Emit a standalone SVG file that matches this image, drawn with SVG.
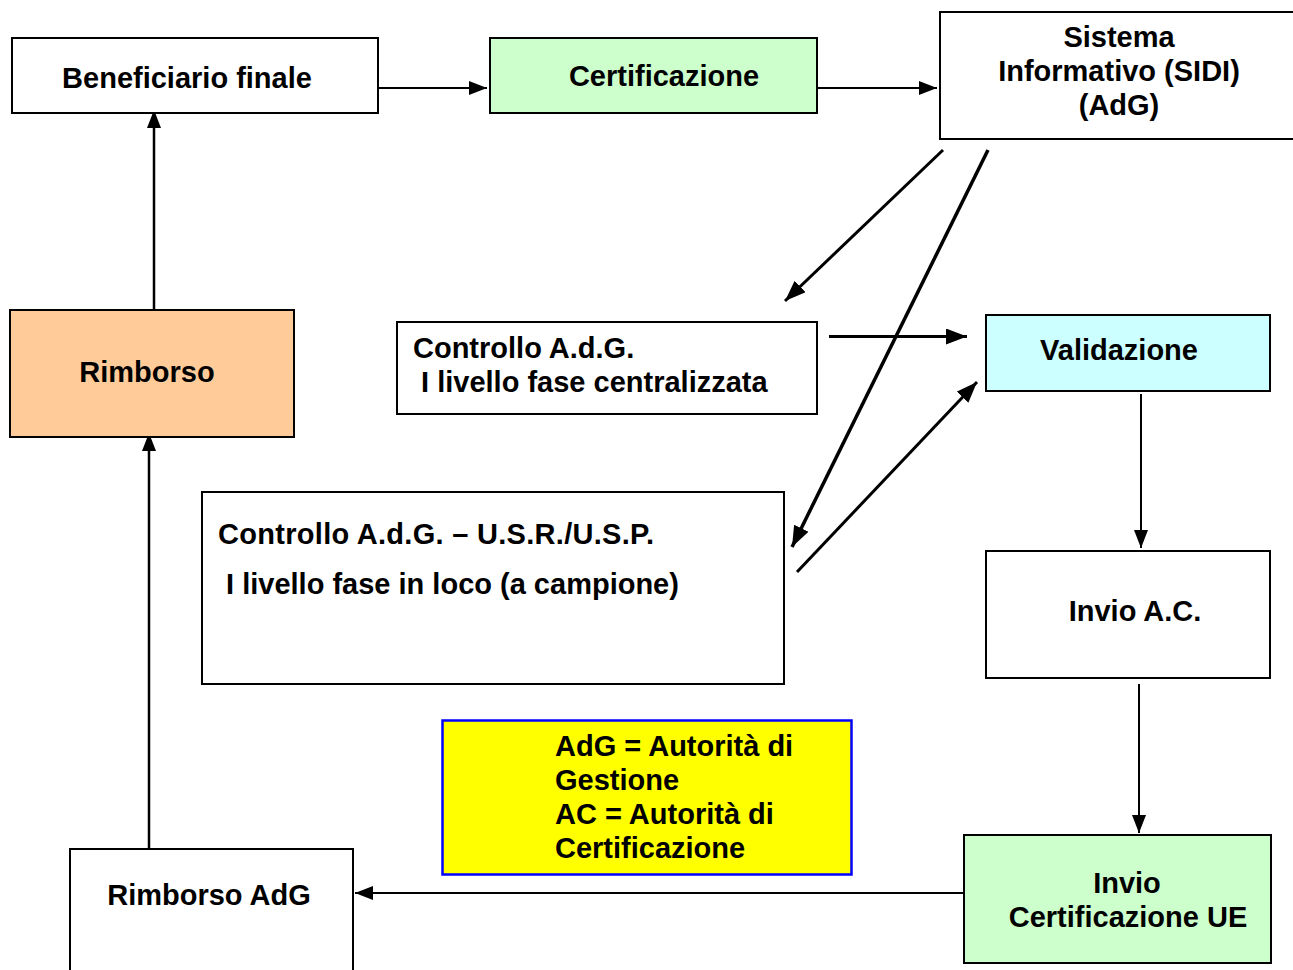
<svg xmlns="http://www.w3.org/2000/svg" width="1293" height="970" viewBox="0 0 1293 970">
<style>
.box{stroke:#000;stroke-width:2;}
.t{font-family:"Liberation Sans",Arial,sans-serif;font-weight:bold;font-size:29px;fill:#000;}
.c{text-anchor:middle;}
.ln{stroke:#000;fill:none;}
</style>
<defs>
<marker id="ah" markerUnits="userSpaceOnUse" markerWidth="20" markerHeight="16" refX="18" refY="7" orient="auto">
<path d="M0,0 L18,7 L0,14 Z" fill="#000"/>
</marker>
<marker id="ahb" markerUnits="userSpaceOnUse" markerWidth="24" markerHeight="18" refX="21" refY="8" orient="auto">
<path d="M0,0 L21,8 L0,16 Z" fill="#000"/>
</marker>
</defs>
<rect width="1293" height="970" fill="#fff"/>
<g id="connectors">
<line class="ln" x1="375" y1="88" x2="487" y2="88" stroke-width="2" marker-end="url(#ah)"/>
<line class="ln" x1="815" y1="88" x2="937" y2="88" stroke-width="2" marker-end="url(#ah)"/>
<line class="ln" x1="154" y1="310" x2="154" y2="110" stroke-width="2.5" marker-end="url(#ah)"/>
<line class="ln" x1="149" y1="849" x2="149" y2="433" stroke-width="2.5" marker-end="url(#ah)"/>
<line class="ln" x1="964" y1="893" x2="355" y2="893" stroke-width="2" marker-end="url(#ah)"/>
<line class="ln" x1="1141" y1="394" x2="1141" y2="548" stroke-width="2" marker-end="url(#ah)"/>
<line class="ln" x1="1139" y1="684" x2="1139" y2="833" stroke-width="2" marker-end="url(#ah)"/>
<line class="ln" x1="943" y1="150" x2="785" y2="301" stroke-width="3" marker-end="url(#ahb)"/>
<line class="ln" x1="988" y1="150" x2="792" y2="547" stroke-width="3.5" marker-end="url(#ahb)"/>
<line class="ln" x1="829" y1="336.5" x2="967" y2="336.5" stroke-width="3" marker-end="url(#ahb)"/>
<line class="ln" x1="797" y1="572" x2="977" y2="382" stroke-width="3" marker-end="url(#ahb)"/>
</g>
<g id="beneficiario">
<rect class="box" x="12" y="38" width="366" height="75" fill="#fff"/>
<text class="t c" x="187" y="88">Beneficiario finale</text>
</g>
<g id="certificazione">
<rect class="box" x="490" y="38" width="327" height="75" fill="#ccffcc"/>
<text class="t c" x="664" y="86">Certificazione</text>
</g>
<g id="sistema">
<rect class="box" x="940" y="12" width="370" height="127" fill="#fff"/>
<text class="t c" x="1119" y="47">Sistema</text>
<text class="t c" x="1119" y="81">Informativo (SIDI)</text>
<text class="t c" x="1119" y="115">(AdG)</text>
</g>
<g id="controllo-adg">
<rect class="box" x="397" y="322" width="420" height="92" fill="#fff"/>
<text class="t" x="413" y="358">Controllo A.d.G.</text>
<text class="t" x="413" y="392" xml:space="preserve"> I livello fase centralizzata</text>
</g>
<g id="validazione">
<rect class="box" x="986" y="315" width="284" height="76" fill="#ccffff"/>
<text class="t c" x="1119" y="360">Validazione</text>
</g>
<g id="rimborso">
<rect class="box" x="10" y="310" width="284" height="127" fill="#ffcc99"/>
<text class="t c" x="147" y="382">Rimborso</text>
</g>
<g id="controllo-usr">
<rect class="box" x="202" y="492" width="582" height="192" fill="#fff"/>
<text class="t" x="218" y="544" textLength="436" lengthAdjust="spacing">Controllo A.d.G. – U.S.R./U.S.P.</text>
<text class="t" x="218" y="594" xml:space="preserve"> I livello fase in loco (a campione)</text>
</g>
<g id="invio-ac">
<rect class="box" x="986" y="551" width="284" height="127" fill="#fff"/>
<text class="t c" x="1135" y="621">Invio A.C.</text>
</g>
<g id="legenda">
<rect x="442.5" y="720.5" width="409" height="154" fill="#ffff00" stroke="#0000ff" stroke-width="2.5"/>
<text class="t" x="555" y="756">AdG = Autorità di</text>
<text class="t" x="555" y="790">Gestione</text>
<text class="t" x="555" y="824">AC = Autorità di</text>
<text class="t" x="555" y="858">Certificazione</text>
</g>
<g id="rimborso-adg">
<rect class="box" x="70" y="849" width="283" height="140" fill="#fff"/>
<text class="t c" x="209" y="905">Rimborso AdG</text>
</g>
<g id="invio-cert-ue">
<rect class="box" x="964" y="835" width="307" height="128" fill="#ccffcc"/>
<text class="t c" x="1127" y="893">Invio</text>
<text class="t c" x="1128" y="927">Certificazione UE</text>
</g>
</svg>
